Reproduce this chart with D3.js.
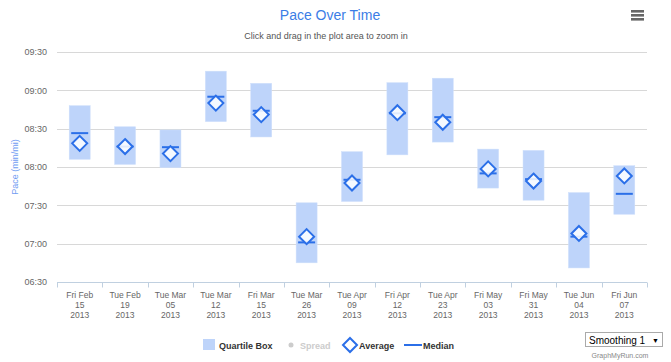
<!DOCTYPE html>
<html><head><meta charset="utf-8">
<script src="https://cdn.jsdelivr.net/npm/d3@7"></script>
<style>html,body{margin:0;padding:0;background:#fff;}svg{display:block;font-family:"Liberation Sans",Arial,sans-serif;}</style>
</head><body>
<svg id="chart" width="671" height="362"></svg>
<script>
// Data (paces in seconds per mile)
const categories = ["Fri Feb 15 2013","Tue Feb 19 2013","Tue Mar 05 2013","Tue Mar 12 2013","Fri Mar 15 2013","Tue Mar 26 2013","Tue Apr 09 2013","Fri Apr 12 2013","Tue Apr 23 2013","Fri May 03 2013","Fri May 31 2013","Tue Jun 04 2013","Fri Jun 07 2013"];
const boxHigh = [528, 511.5, 509, 555, 545.5, 452, 492, 546, 549.5, 494, 493, 460, 481];
const boxLow  = [486, 482, 479.5, 515.5, 503.5, 405, 453, 489.5, 499.5, 463.5, 454, 401, 443];
const median  = [506.5, 496, 495.5, 535, 524, 421, 470, 522, 519, 475, 470.5, 425.5, 459];
const average = [498.5, 496, 490.5, 530, 521, 425.5, 467.5, 522.5, 515, 478.5, 469, 428, 473];
const yTickValues = [390, 420, 450, 480, 510, 540, 570];
const yTickLabels = ["06:30","07:00","07:30","08:00","08:30","09:00","09:30"];
const legendItems = ["Quartile Box","Spread","Average","Median"];

const svg = d3.select("#chart");
const boxColor = "#bed4fa", lineColor = "#2b6fe8";

const x = d3.scaleBand().domain(categories).range([57, 647]).padding(0);
const y = d3.scaleLinear().domain([390, 570]).range([282, 52]);

// Title & subtitle
svg.append("text").attr("x", 330).attr("y", 20).attr("text-anchor","middle")
  .attr("fill","#3b7de6").attr("font-size","14px").text("Pace Over Time");
svg.append("text").attr("x", 326).attr("y", 39).attr("text-anchor","middle")
  .attr("fill","#555").attr("font-size","9px").text("Click and drag in the plot area to zoom in");

// menu icon
[11, 15, 19].forEach(yy => svg.append("rect").attr("x",631).attr("y",yy-1).attr("width",13).attr("height",2.6).attr("fill","#666"));

// gridlines
const yAxis = d3.axisLeft(y).tickValues(yTickValues).tickFormat((d,i)=>yTickLabels[i]).tickSize(0).tickPadding(0);
const gy = svg.append("g").attr("transform","translate(47,0)").call(yAxis);
gy.select(".domain").remove();
gy.selectAll("text").attr("fill","#666").attr("font-size","9px").attr("font-family","Liberation Sans, Arial, sans-serif").attr("dy","0.32em");
svg.append("g").selectAll("line").data(yTickValues.slice(1)).join("line")
  .attr("x1",57).attr("x2",647).attr("y1",d=>Math.round(y(d))+0.5).attr("y2",d=>Math.round(y(d))+0.5)
  .attr("stroke","#d8d8d8").attr("stroke-width",1);

// axis title
svg.append("text").attr("transform","translate(18,167) rotate(-90)").attr("text-anchor","middle")
  .attr("fill","#6f9cf2").attr("font-size","9px").text("Pace (min/mi)");

// x axis
const gx = svg.append("g").attr("transform","translate(0,282.5)");
gx.append("line").attr("x1",57).attr("x2",647).attr("stroke","#c0d0e0");
const edges = categories.map(c=>x(c)).concat([x.range()[1]]);
gx.selectAll("line.tick").data(edges).join("line").attr("class","tick")
  .attr("x1",d=>Math.round(d)+0.5).attr("x2",d=>Math.round(d)+0.5).attr("y1",0).attr("y2",5).attr("stroke","#c0d0e0");
const lbl = gx.selectAll("text").data(categories).join("text")
  .attr("x",d=>x(d)+x.bandwidth()/2).attr("text-anchor","middle").attr("fill","#666").attr("font-size","8.5px");
lbl.each(function(d){
  const p = d.split(" ");
  const lines = [p[0]+" "+p[1], p[2], p[3]];
  d3.select(this).selectAll("tspan").data(lines).join("tspan")
    .attr("x", x(d)+x.bandwidth()/2).attr("y",(t,i)=>15+i*10).text(t=>t);
});

// quartile boxes
const bw = 21;
svg.append("g").selectAll("rect").data(categories).join("rect")
  .attr("x",(d)=>x(d)+x.bandwidth()/2-bw/2).attr("width",bw)
  .attr("y",(d,i)=>y(boxHigh[i])).attr("height",(d,i)=>y(boxLow[i])-y(boxHigh[i]))
  .attr("fill",boxColor).attr("stroke","#cfe0fb").attr("stroke-width",0.5);

// medians
svg.append("g").selectAll("line").data(categories).join("line")
  .attr("x1",d=>x(d)+x.bandwidth()/2-8.5).attr("x2",d=>x(d)+x.bandwidth()/2+8.5)
  .attr("y1",(d,i)=>y(median[i])).attr("y2",(d,i)=>y(median[i]))
  .attr("stroke",lineColor).attr("stroke-width",2);

// averages (diamonds)
const r = 7.5;
svg.append("g").selectAll("path").data(categories).join("path")
  .attr("transform",(d,i)=>`translate(${x(d)+x.bandwidth()/2},${y(average[i])})`)
  .attr("d",`M0,${-r}L${r},0L0,${r}L${-r},0Z`)
  .attr("fill","rgba(255,255,255,0.85)").attr("stroke",lineColor).attr("stroke-width",2);

// legend
const lg = svg.append("g").attr("font-size","9px").attr("font-weight","bold");
lg.append("rect").attr("x",203).attr("y",339).attr("width",12).attr("height",11).attr("fill",boxColor);
lg.append("text").attr("x",219).attr("y",348.5).attr("fill","#333").text(legendItems[0]);
lg.append("circle").attr("cx",291).attr("cy",345).attr("r",2.5).attr("fill","#ccc");
lg.append("text").attr("x",300).attr("y",348.5).attr("fill","#ccc").text(legendItems[1]);
lg.append("path").attr("transform","translate(350,345)").attr("d","M0,-7L7,0L0,7L-7,0Z")
  .attr("fill","#fff").attr("stroke",lineColor).attr("stroke-width",2);
lg.append("text").attr("x",359).attr("y",348.5).attr("fill","#333").text(legendItems[2]);
lg.append("line").attr("x1",404).attr("x2",422).attr("y1",345).attr("y2",345).attr("stroke",lineColor).attr("stroke-width",2);
lg.append("text").attr("x",423).attr("y",348.5).attr("fill","#333").text(legendItems[3]);

// smoothing select
const sel = svg.append("g");
sel.append("rect").attr("x",585.5).attr("y",332.5).attr("width",77).attr("height",14).attr("fill","#fff").attr("stroke","#aaa");
sel.append("text").attr("x",589).attr("y",343.5).attr("font-size","10px").attr("fill","#000").text("Smoothing 1");
sel.append("text").attr("x",652).attr("y",342.5).attr("font-size","7px").attr("fill","#000").text("▼");
svg.append("text").attr("x",620).attr("y",358).attr("text-anchor","middle").attr("font-size","7px").attr("fill","#888").text("GraphMyRun.com");
</script>
</body></html>
